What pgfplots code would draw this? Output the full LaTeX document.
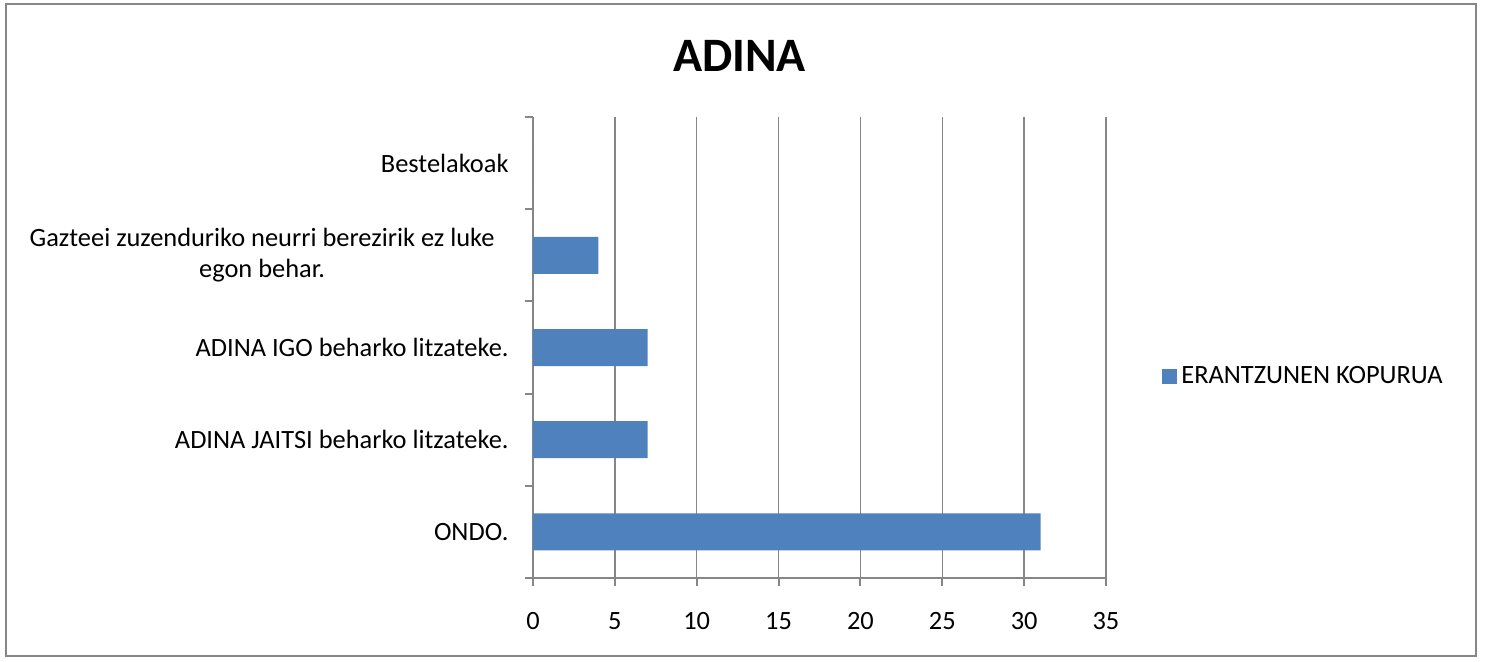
\documentclass[border=0pt]{standalone}
\usepackage{pgfplots}
\pgfplotsset{compat=1.18}
\usepackage{fontspec}
\setmainfont{Carlito}
\definecolor{barblue}{HTML}{4F81BD}
\definecolor{gridgray}{HTML}{868686}
\begin{document}
\begin{tikzpicture}[x=1pt,y=1pt]
\path (0,0) rectangle (742.5,330.5);
\draw[gridgray, line width=1pt] (2.75,2.75) rectangle (738,328.5);
\node[font=\fontsize{24}{28}\selectfont\bfseries] at (369.75,302.5) {ADINA};
\begin{axis}[
  at={(266.5pt,41.5pt)}, anchor=south west,
  scale only axis, width=286.5pt, height=230.5pt,
  xmin=0, xmax=35, ymin=-0.5, ymax=4.5,
  enlargelimits=false,
  axis x line*=bottom, axis y line*=left,
  axis line style={-, draw=gridgray, line width=1pt},
  tick align=outside,
  major tick length=4pt,
  tick style={gridgray, line width=1pt},
  xtick={0,5,...,35},
  xmajorgrids=true,
  major grid style={gridgray, line width=0.75pt},
  ytick={-0.5,0.5,1.5,2.5,3.5,4.5},
  yticklabels={},
  extra y ticks={0,1,2,3,4},
  extra y tick labels={ONDO., ADINA JAITSI beharko litzateke., ADINA IGO beharko litzateke., {Gazteei zuzenduriko neurri berezirik ez luke\hspace*{7pt}\\egon behar.\hspace*{7pt}}, Bestelakoak},
  extra y tick style={major tick length=0pt, ymajorgrids=false, yticklabel style={align=center, xshift=-8.7pt}},
  tick label style={font=\fontsize{13.2}{15.5}\selectfont},
  /pgf/number format/assume math mode=true,
  xticklabel style={yshift=-9.5pt},
  legend style={at={(1.0977,0.438)}, anchor=west, draw=none, fill=none, inner sep=0pt, font=\fontsize{13.2}{15.5}\selectfont},
  legend image code/.code={\fill[barblue] (0pt,-3.75pt) rectangle (7.5pt,3.75pt);},
]
\addplot[xbar, bar width=18.5pt, fill=barblue, draw=none] coordinates {(31,0) (7,1) (7,2) (4,3) (0,4)};
\addlegendentry{ERANTZUNEN KOPURUA}
\end{axis}
\end{tikzpicture}
\end{document}
